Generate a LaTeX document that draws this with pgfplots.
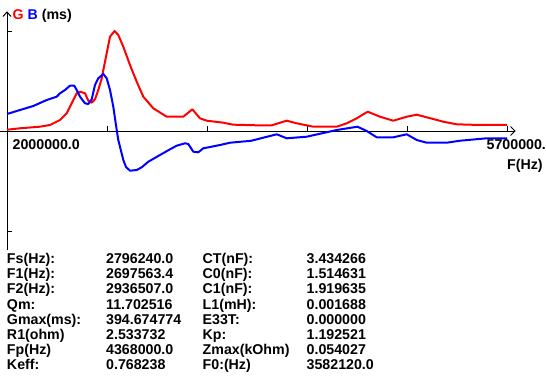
\documentclass[border=0pt]{standalone}
\usepackage{fontspec}
\setmainfont{Liberation Sans}
\usepackage{pgfplots}
\pgfplotsset{compat=1.18}
\definecolor{gred}{RGB}{255,0,0}
\definecolor{bblue}{RGB}{0,0,255}
\pgfplotstableread{
f g
2000000 5.1
2096200 10.7
2244200 17.0
2318200 23.7
2392200 43.4
2441800 69.9
2478800 109.3
2515800 148.8
2540200 155.1
2577200 148.8
2601600 119.6
2626800 111.7
2651200 125.1
2675600 161.8
2700800 208.0
2725200 273.5
2762200 372.2
2796240 394.7
2823600 378.9
2860600 332.7
2910200 260.5
2959800 194.6
3008600 135.4
3082600 89.6
3181800 56.4
3304600 56.4
3371200 85.6
3428200 50.1
3477800 40.7
3600600 32.8
3674600 24.9
3847800 22.5
3958800 22.5
4069800 40.7
4143800 30.4
4266600 17.0
4439800 17.0
4513800 30.4
4587800 50.1
4669200 76.2
4760200 56.4
4858600 40.7
4957800 56.4
5031800 64.3
5105800 54.1
5228600 36.7
5327800 26.4
5500200 23.7
5700000 23.7
}\Gtable
\pgfplotstableread{
f b
2000000 67.1
2096200 82.9
2194600 98.7
2293800 122.3
2367800 135.4
2392200 148.8
2429200 161.8
2466200 178.8
2498000 178.8
2515800 161.8
2540200 135.4
2577200 109.3
2601600 106.6
2626800 125.1
2651200 181.5
2675600 208.0
2712600 225.0
2737800 208.0
2762200 161.8
2786600 95.9
2811800 3.9
2823600 -35.5
2836200 -62.0
2860600 -114.5
2880600 -142.1
2910200 -156.7
2959800 -153.9
2996800 -143.3
3045600 -121.2
3132200 -94.7
3206200 -72.2
3255800 -58.0
3317200 -48.5
3341600 -51.3
3378600 -81.7
3415600 -84.1
3452600 -68.3
3576200 -55.3
3650200 -46.2
3805600 -38.7
3995800 -13.0
4069800 -28.8
4217800 -22.5
4439800 3.9
4593700 17.0
4661800 0
4735800 -24.9
4858600 -24.9
4957800 -13.0
5031800 -35.5
5105800 -46.2
5253800 -46.2
5352200 -38.3
5549800 -28.8
5700000 -28.8
}\Btable
\begin{document}
\fontsize{14.2bp}{15bp}\selectfont\bfseries
\begin{tikzpicture}[x=1bp,y=1bp]
\path[use as bounding box] (0,0) rectangle (546,381);
\clip (0,0) rectangle (546,381);
\begin{axis}[at={(7bp,131bp)}, anchor=south west, scale only axis,
  width=508bp, height=238bp,
  xmin=2000000, xmax=5759200, ymin=-469.66, ymax=469.66,
  axis lines=none, clip=false]
  % axes
  \draw[black, line width=1bp] (axis cs:2000000,-469.66) -- (axis cs:2000000,469.66);
  \draw[black, line width=1bp] ([xshift=-4bp,yshift=-4.5bp]axis cs:2000000,469.66) -- (axis cs:2000000,469.66) -- ([xshift=4bp,yshift=-4.5bp]axis cs:2000000,469.66);
  \draw[black, line width=1bp] ([xshift=-7.5bp]axis cs:2000000,0) -- (axis cs:5759200,0);
  \draw[black, line width=1bp] ([xshift=-4.5bp,yshift=4.5bp]axis cs:5759200,0) -- (axis cs:5759200,0) -- ([xshift=-4.5bp,yshift=-4.5bp]axis cs:5759200,0);
  \foreach \t in {2740000,3480000,4220000,4960000,5700000}{
    \edef\temp{\noexpand\draw[black, line width=1bp] (axis cs:\t,0) -- ([yshift=5bp]axis cs:\t,0);}\temp
  }
  \draw[black, line width=1bp] (axis cs:2000000,394.67) -- ([xshift=4.5bp]axis cs:2000000,394.67);
  \draw[black, line width=1bp] (axis cs:2000000,-394.67) -- ([xshift=4.5bp]axis cs:2000000,-394.67);
  \addplot[gred, line width=2bp, no marks, line join=round] table[x=f, y=g] {\Gtable};
  \addplot[bblue, line width=2bp, no marks, line join=round] table[x=f, y=b] {\Btable};
\end{axis}
% texts
\node[anchor=base west, inner sep=0] at (12.5, 381-19) {\textcolor{gred}{G} \textcolor{bblue}{B} (ms)};
\node[anchor=base west, inner sep=0] at (12.5, 381-149) {2000000.0};
\node[anchor=base west, inner sep=0] at (486.5, 381-149) {5700000.0};
\node[anchor=base west, inner sep=0] at (507, 381-169.3) {F(Hz)};
\foreach \la/\va/\lb/\vb [count=\i from 0] in {
  Fs(Hz):/2796240.0/CT(nF):/3.434266,
  F1(Hz):/2697563.4/C0(nF):/1.514631,
  F2(Hz):/2936507.0/C1(nF):/1.919635,
  Qm:/11.702516/L1(mH):/0.001688,
  Gmax(ms):/394.674774/E33T:/0.000000,
  R1(ohm)/2.533732/Kp:/1.192521,
  Fp(Hz)/4368000.0/Zmax(kOhm)/0.054027,
  Keff:/0.768238/F0:(Hz)/3582120.0}{
  \pgfmathsetmacro{\yy}{381-263.7-15.14*\i}
  \node[anchor=base west, inner sep=0] at (6.8, \yy) {\la};
  \node[anchor=base west, inner sep=0] at (106, \yy) {\va};
  \node[anchor=base west, inner sep=0] at (202.5, \yy) {\lb};
  \node[anchor=base west, inner sep=0] at (306.5, \yy) {\vb};
}
\end{tikzpicture}
\end{document}
